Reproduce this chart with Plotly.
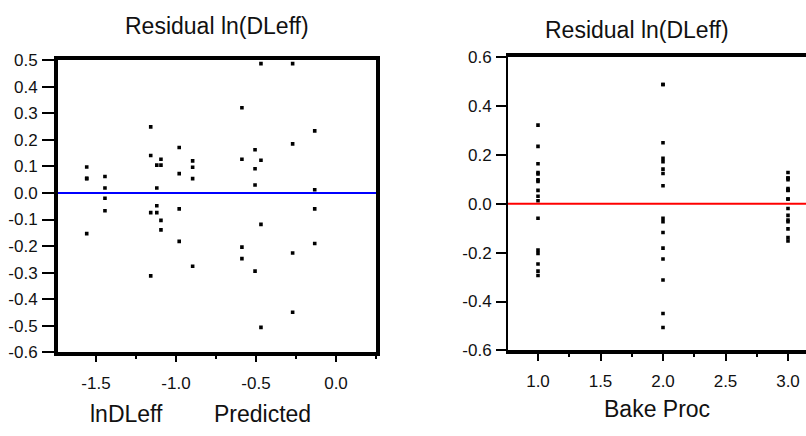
import plotly.graph_objects as go

# Residuals of ln(DLeff) for each run, with the model prediction and bake process
predicted = [
    -1.558, -1.558, -1.558, -1.558,
    -1.444, -1.444, -1.444, -1.444,
    -1.158, -1.158, -1.158, -1.158,
    -1.120, -1.120, -1.120, -1.120,
    -1.094, -1.094, -1.094, -1.094,
    -0.980, -0.980, -0.980, -0.980,
    -0.896, -0.896, -0.896, -0.896,
    -0.588, -0.588, -0.588, -0.588,
    -0.506, -0.506, -0.506, -0.506,
    -0.469, -0.469, -0.469, -0.469,
    -0.271, -0.271, -0.271, -0.271,
    -0.133, -0.133, -0.133, -0.133,
]
residual = [
    0.098, 0.054, 0.055, -0.153,
    0.062, 0.019, -0.020, -0.067,
    0.249, 0.141, -0.074, -0.312,
    0.105, 0.019, -0.048, -0.074,
    0.127, 0.105, -0.103, -0.139,
    0.171, 0.073, -0.060, -0.182,
    0.121, 0.097, 0.054, -0.276,
    0.321, 0.127, -0.204, -0.247,
    0.163, 0.091, 0.030, -0.294,
    0.487, 0.123, -0.118, -0.506,
    0.487, 0.185, -0.226, -0.449,
    0.234, 0.012, -0.060, -0.190,
]
bake_proc = [
    3, 3, 3, 3,
    3, 3, 3, 3,
    2, 2, 2, 2,
    3, 3, 3, 3,
    3, 3, 3, 3,
    2, 2, 2, 2,
    1, 1, 1, 1,
    1, 1, 1, 1,
    1, 1, 1, 1,
    2, 2, 2, 2,
    2, 2, 2, 2,
    1, 1, 1, 1,
]

left_yticks = [0.5, 0.4, 0.3, 0.2, 0.1, 0.0, -0.1, -0.2, -0.3, -0.4, -0.5, -0.6]
left_xticks = [-1.5, -1.0, -0.5, 0.0]
right_yticks = [0.6, 0.4, 0.2, 0.0, -0.2, -0.4, -0.6]
right_xticks = [1.0, 1.5, 2.0, 2.5, 3.0]


def fmt(vals):
    # plain hyphen for negatives, one decimal place
    return [("%.1f" % v).replace("-0.0", "0.0") for v in vals]


FONT = "Liberation Sans, Arial, sans-serif"
INK = "#111"
W, H = 806, 436

fig = go.Figure()

marker = dict(symbol="square", size=3.6, color="black", line=dict(width=0))

fig.add_trace(go.Scatter(x=predicted, y=residual, mode="markers",
                         marker=marker, xaxis="x", yaxis="y",
                         showlegend=False, hoverinfo="x+y"))
fig.add_trace(go.Scatter(x=bake_proc, y=residual, mode="markers",
                         marker=marker, xaxis="x2", yaxis="y2",
                         showlegend=False, hoverinfo="x+y"))

tickfont = dict(family=FONT, size=17, color=INK)

fig.update_layout(
    width=W, height=H,
    margin=dict(l=0, r=0, t=0, b=0),
    paper_bgcolor="white", plot_bgcolor="white",
    font=dict(family=FONT, color=INK),
    xaxis=dict(
        domain=[58 / W, 376 / W], range=[-1.7375, 0.25],
        tickvals=left_xticks, ticktext=fmt(left_xticks),
        ticks="outside", ticklen=6, tickwidth=2, tickcolor="black",
        ticklabelstandoff=6,
        minor=dict(dtick=0.25, tick0=0, ticks="outside", ticklen=3,
                   tickwidth=2, tickcolor="black"),
        showline=True, linewidth=4, linecolor="black", mirror=True,
        showgrid=False, zeroline=False, tickfont=tickfont,
    ),
    yaxis=dict(
        domain=[1 - 359 / H, 1 - 53.5 / H], range=[-0.6, 0.5],
        tickvals=left_yticks, ticktext=fmt(left_yticks),
        ticks="outside", ticklen=12, tickwidth=2, tickcolor="black",
        ticklabelstandoff=1,
        showline=True, linewidth=4, linecolor="black", mirror=True,
        showgrid=False, zeroline=False, tickfont=tickfont,
    ),
    xaxis2=dict(
        domain=[508 / W, 1.0], range=[0.76, 3.144], anchor="y2",
        tickvals=right_xticks, ticktext=fmt(right_xticks),
        ticks="outside", ticklen=7, tickwidth=2, tickcolor="black",
        ticklabelstandoff=5,
        minor=dict(dtick=0.25, tick0=0, ticks="outside", ticklen=3,
                   tickwidth=2, tickcolor="black"),
        showline=True, linewidth=4, linecolor="black", mirror=True,
        showgrid=False, zeroline=False, tickfont=tickfont,
    ),
    yaxis2=dict(
        domain=[1 - 357 / H, 1 - 50 / H], range=[-0.6, 0.6], anchor="x2",
        tickvals=right_yticks, ticktext=fmt(right_yticks),
        ticks="outside", ticklen=10, tickwidth=2, tickcolor="black",
        ticklabelstandoff=1,
        showline=True, linewidth=2, linecolor="black",
        showgrid=False, zeroline=False, tickfont=tickfont,
    ),
)

# Zero reference lines
fig.add_shape(type="line", xref="x domain", yref="y", x0=0, x1=1, y0=0, y1=0,
              line=dict(color="#0000ff", width=2))
fig.add_shape(type="line", xref="x2 domain", yref="y2", x0=0, x1=1, y0=0, y1=0,
              line=dict(color="#ff0000", width=2))


# Titles and axis captions
def label(text, x, y, size):
    fig.add_annotation(text=text, x=x / W, y=1 - y / H, xref="paper", yref="paper",
                       showarrow=False, xanchor="center", yanchor="middle",
                       font=dict(family=FONT, size=size, color=INK))


label("Residual ln(DLeff)", 217, 18, 23)
label("Residual ln(DLeff)", 637, 22, 23)
label("lnDLeff", 127, 423, 23)
label("Predicted", 262, 423, 23)
label("Bake Proc", 657, 418, 23)

fig.write_html("out.html")
